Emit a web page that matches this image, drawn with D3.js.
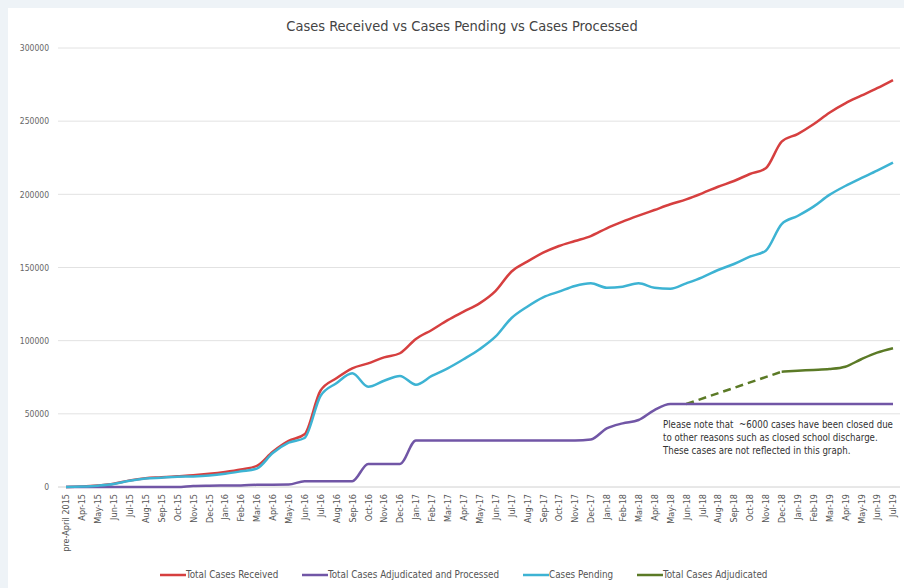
<!DOCTYPE html>
<html>
<head>
<meta charset="utf-8">
<script src="https://cdn.jsdelivr.net/npm/d3@7"></script>
<style>
  html, body { margin: 0; padding: 0; background: #eef3f7; }
  svg { display: block; }
  text { font-family: "DejaVu Sans Condensed", "Liberation Sans", sans-serif; }
</style>
</head>
<body>
<div class="chart"></div>
<script>
// month labels along the bottom
const months = ["pre-April 2015", "Apr-15", "May-15", "Jun-15", "Jul-15", "Aug-15", "Sep-15", "Oct-15", "Nov-15", "Dec-15",
  "Jan-16", "Feb-16", "Mar-16", "Apr-16", "May-16", "Jun-16", "Jul-16", "Aug-16", "Sep-16", "Oct-16", "Nov-16", "Dec-16",
  "Jan-17", "Feb-17", "Mar-17", "Apr-17", "May-17", "Jun-17", "Jul-17", "Aug-17", "Sep-17", "Oct-17", "Nov-17", "Dec-17",
  "Jan-18", "Feb-18", "Mar-18", "Apr-18", "May-18", "Jun-18", "Jul-18", "Aug-18", "Sep-18", "Oct-18", "Nov-18", "Dec-18",
  "Jan-19", "Feb-19", "Mar-19", "Apr-19", "May-19", "Jun-19", "Jul-19"];

const received = [0, 300, 1000, 2200, 4500, 6000, 6600, 7300, 8000, 9000,
  10300, 12000, 14400, 24100, 31500, 36000, 65800, 74300, 81100, 84500, 88600, 91400,
  101100, 107300, 114000, 119800, 125500, 133900, 147100, 154000, 160100, 164700, 168100, 171500,
  176800, 181300, 185400, 189300, 193200, 196600, 200700, 205200, 209100, 213900, 217800, 236000,
  241200, 247900, 255800, 262200, 267400, 272500, 278100];

const processed = [0, 0, 0, 0, 0, 0, 0, 0, 700, 900,
  1000, 1100, 1500, 1600, 1700, 4000, 4000, 4000, 4000, 15800, 15800, 15800,
  31800, 31800, 31800, 31800, 31800, 31800, 31800, 31800, 31800, 31800, 31800, 32500,
  40000, 43500, 45800, 52600, 56700, 56700, 56700, 56700, 56700, 56700, 56700, 56700,
  56700, 56700, 56700, 56700, 56700, 56700, 56700];

const pending = [0, 300, 900, 2000, 4300, 5800, 6400, 7000, 7200, 7800,
  9000, 10700, 12600, 23200, 30300, 33500, 62200, 70900, 77700, 68500, 72600, 75900,
  69900, 75900, 81100, 87300, 94100, 102700, 115300, 123200, 129600, 133500, 137400, 139200,
  136200, 136900, 139200, 136200, 135500, 139200, 143300, 148300, 152400, 157400, 161500, 179700,
  185200, 191600, 199600, 205700, 211000, 216200, 221700];

// adjudicated only known from Jun-18; the gap up to Dec-18 is drawn dashed
const adjudicated = [null, null, null, null, null, null, null, null, null, null,
  null, null, null, null, null, null, null, null, null, null, null, null,
  null, null, null, null, null, null, null, null, null, null, null, null,
  null, null, null, null, null, 56700, null, null, null, null, null, 78800,
  79500, 80000, 80600, 82200, 87300, 91800, 94800];

const yTicks = [0, 50000, 100000, 150000, 200000, 250000, 300000];

const seriesNames = ["Total Cases Received", "Total Cases Adjudicated and Processed", "Cases Pending", "Total Cases Adjudicated"];
const seriesColours = ["#d63f3f", "#7156a6", "#3db3d3", "#5b7a26"];

const width = 904, height = 588;

const svg = d3.select(".chart").append("svg")
    .attr("width", width)
    .attr("height", height);

//white chart panel
svg.append("rect")
    .attr("x", 8).attr("y", 8)
    .attr("width", width - 8).attr("height", height - 8)
    .attr("fill", "#ffffff");

const x = d3.scalePoint()
    .domain(months)
    .range([66, 893]);

const y = d3.scaleLinear()
    .domain([0, 300000])
    .range([487, 48]);

//title
svg.append("text")
    .text("Cases Received vs Cases Pending vs Cases Processed")
    .attr("x", 462)
    .attr("y", 31)
    .attr("text-anchor", "middle")
    .attr("font-size", 14.5)
    .attr("fill", "#444");

//gridlines
svg.append("g")
    .selectAll("line")
    .data(yTicks.slice(1))
    .enter().append("line")
    .attr("x1", 58).attr("x2", 900)
    .attr("y1", d => y(d)).attr("y2", d => y(d))
    .attr("stroke", "#e2e2e2")
    .attr("stroke-width", 1);

//y axis labels
const yAxis = svg.append("g")
    .attr("transform", "translate(49,0)")
    .call(d3.axisLeft(y).tickValues(yTicks).tickSize(0).tickPadding(0).tickFormat(d3.format("d")));
yAxis.select(".domain").remove();
yAxis.selectAll("text")
    .attr("font-size", 8.5)
    .attr("fill", "#666");

//x axis
const xAxis = svg.append("g")
    .attr("transform", "translate(0,487)")
    .call(d3.axisBottom(x).tickSize(0).tickPadding(0));
xAxis.select(".domain")
    .attr("d", "M58,0H900")
    .attr("stroke", "#d0d0d0");
xAxis.selectAll("text")
    .attr("font-size", 9)
    .attr("fill", "#555")
    .attr("text-anchor", "end")
    .attr("dy", "0.32em")
    .attr("transform", "translate(0,7) rotate(-90)");

const line = d3.line()
    .defined(d => d != null)
    .x((d, i) => x(months[i]))
    .y(d => y(d))
    .curve(d3.curveMonotoneX);

const allSeries = [received, processed, pending];

//green dashed segment across the gap (Jun-18 -> Dec-18)
const gapPoints = adjudicated
    .map((v, i) => ({ v: v, i: i }))
    .filter(d => d.v != null && d.i <= 45);
svg.append("path")
    .attr("d", d3.line().x(d => x(months[d.i])).y(d => y(d.v))(gapPoints))
    .attr("fill", "none")
    .attr("stroke", seriesColours[3])
    .attr("stroke-width", 2.5)
    .attr("stroke-dasharray", "8,5");

allSeries.forEach((s, k) => {
    svg.append("path")
        .attr("d", line(s))
        .attr("fill", "none")
        .attr("stroke", seriesColours[k])
        .attr("stroke-width", 2.5)
        .attr("stroke-linejoin", "round");
});

svg.append("path")
    .attr("d", line(adjudicated))
    .attr("fill", "none")
    .attr("stroke", seriesColours[3])
    .attr("stroke-width", 2.5)
    .attr("stroke-linejoin", "round");

//note
const note = ["Please note that  ~6000 cases have been closed due",
  "to other reasons such as closed school discharge.",
  "These cases are not reflected in this graph."];
svg.append("g")
    .selectAll("text")
    .data(note)
    .enter().append("text")
    .text(d => d)
    .attr("x", 663)
    .attr("y", (d, i) => 428 + i * 13)
    .attr("font-size", 9.6)
    .attr("fill", "#333")
    .style("white-space", "pre")
    .attr("xml:space", "preserve");

//legend
const legendX = [160, 302, 523, 637];
const legend = svg.append("g")
    .selectAll("g")
    .data(seriesNames)
    .enter().append("g")
    .attr("transform", (d, i) => `translate(${legendX[i]}, 575)`);

legend.append("line")
    .attr("x1", 0).attr("x2", 26)
    .attr("stroke", (d, i) => seriesColours[i])
    .attr("stroke-width", 2.5);

legend.append("text")
    .text(d => d)
    .attr("x", 26)
    .attr("dy", "0.32em")
    .attr("font-size", 9.8)
    .attr("fill", "#555");
</script>
</body>
</html>
